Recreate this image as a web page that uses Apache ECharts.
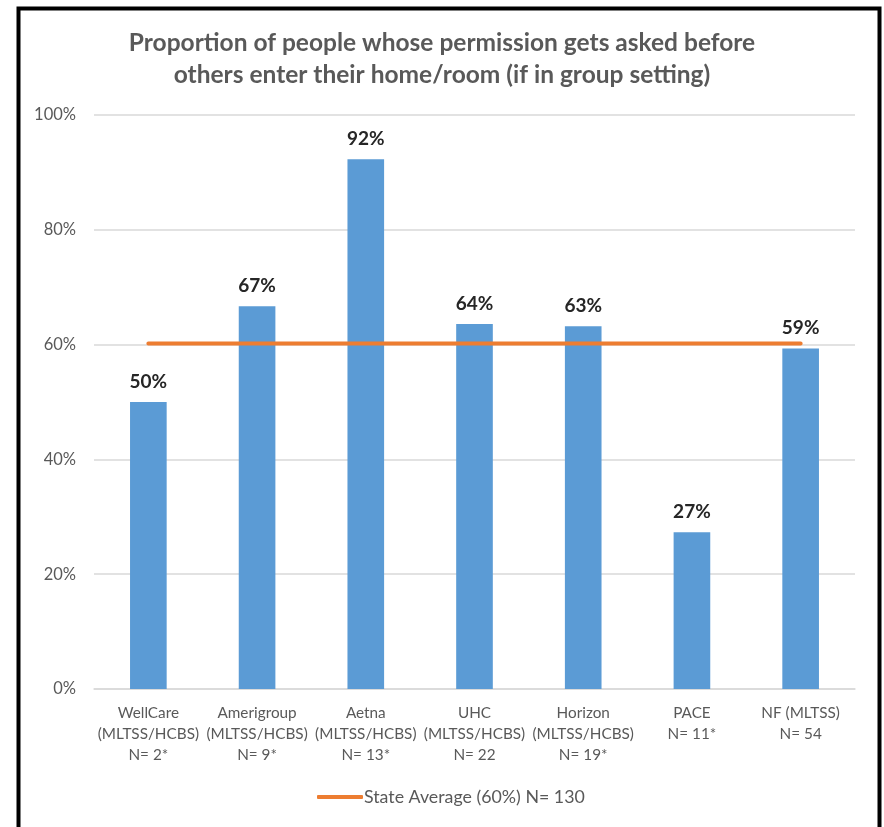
<!DOCTYPE html>
<html>
<head>
<meta charset="utf-8">
<script src="https://cdn.jsdelivr.net/npm/echarts@6/dist/echarts.min.js"></script>
<style>html,body{margin:0;padding:0;background:#fff}#c{width:884px;height:827px}</style>
</head>
<body>
<div id="c"></div>
<script>
var categories = [
  'WellCare\n(MLTSS/HCBS)\nN= 2*',
  'Amerigroup\n(MLTSS/HCBS)\nN= 9*',
  'Aetna\n(MLTSS/HCBS)\nN= 13*',
  'UHC\n(MLTSS/HCBS)\nN= 22',
  'Horizon\n(MLTSS/HCBS)\nN= 19*',
  'PACE\nN= 11*',
  'NF (MLTSS)\nN= 54'
];
var proportions = [50.0, 66.7, 92.3, 63.6, 63.2, 27.3, 59.3];
var stateAverage = [60.2, 60.2, 60.2, 60.2, 60.2, 60.2, 60.2];
var stateAverageName = 'State Average (60%) N= 130';
var titleText = 'Proportion of people whose permission gets asked before\nothers enter their home/room (if in group setting)';

var chart = echarts.init(document.getElementById('c'), null, {renderer: 'canvas'});
var FONT = 'Lato';
chart.setOption({
  animation: false,
  backgroundColor: '#ffffff',
  title: {
    text: titleText,
    left: 'center',
    top: 22,
    textStyle: {fontFamily: FONT, fontSize: 24.5, fontWeight: 'bold', color: '#595959', lineHeight: 32}
  },
  graphic: [{
    type: 'rect',
    shape: {x: 18.5, y: 8.5, width: 861, height: 840},
    style: {fill: null, stroke: '#000', lineWidth: 4},
    silent: true
  }],
  legend: {
    data: [stateAverageName],
    bottom: 16,
    left: 312,
    itemWidth: 46,
    itemHeight: 4,
    itemGap: 0,
    textStyle: {fontFamily: FONT, fontSize: 17.8, color: '#595959', padding: [0, 0, 0, -4]},
    icon: 'roundRect'
  },
  grid: {left: 94, right: 29, top: 115, bottom: 138},
  xAxis: {
    type: 'category',
    data: categories,
    axisLine: {lineStyle: {color: '#d9d9d9', width: 1.5}},
    axisTick: {show: false},
    axisLabel: {fontFamily: FONT, fontSize: 15.3, color: '#595959', lineHeight: 21, margin: 14, interval: 0}
  },
  yAxis: {
    type: 'value',
    min: 0, max: 100, interval: 20,
    axisLine: {show: false},
    axisTick: {show: false},
    splitLine: {lineStyle: {color: '#d9d9d9', width: 1.5}},
    axisLabel: {fontFamily: FONT, fontSize: 16.5, color: '#595959', formatter: '{value}%', margin: 18}
  },
  series: [{
    type: 'bar',
    name: 'Proportion',
    data: proportions,
    barWidth: '33.7%',
    itemStyle: {color: '#5B9BD5'},
    label: {
      show: true, position: 'top', distance: 11,
      fontFamily: FONT, fontSize: 19, fontWeight: 'bold', color: '#262626',
      formatter: function (p) { return Math.round(p.value) + '%'; }
    },
    z: 2
  }, {
    type: 'line',
    name: stateAverageName,
    data: stateAverage,
    symbol: 'none',
    lineStyle: {color: '#ED7D31', width: 4, cap: 'round'},
    itemStyle: {color: '#ED7D31'},
    z: 3
  }]
});
</script>
</body>
</html>
